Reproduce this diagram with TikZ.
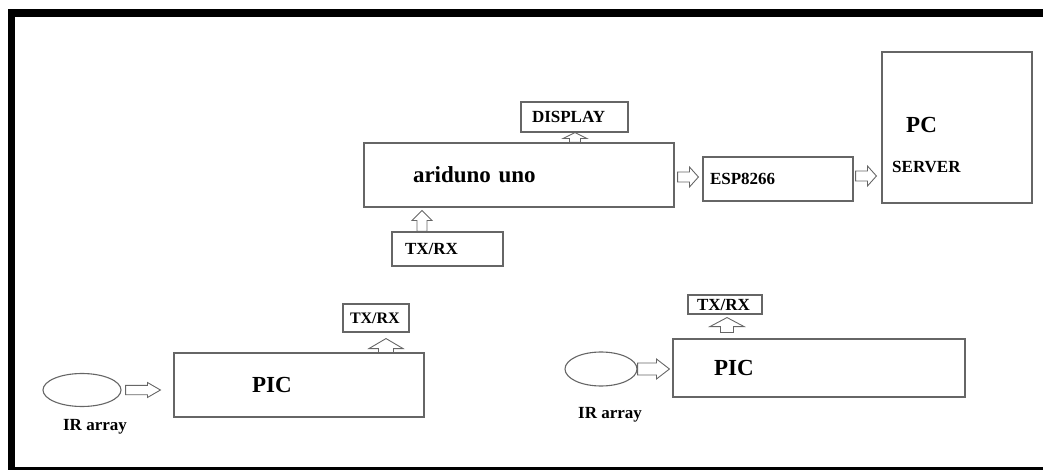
\documentclass[tikz,border=0pt]{standalone}
\usepackage{fontspec}
\setmainfont{Liberation Serif}
\usetikzlibrary{positioning,calc,shapes.geometric}

\begin{document}
\begin{tikzpicture}[
  x=1pt, y=-1pt,
  bshaft/.initial=5pt, bhead/.initial=10pt, blen/.initial=10pt,
  big/.style={font=\bfseries\fontsize{23}{26}\selectfont},
  small/.style={font=\bfseries\fontsize{17}{19}\selectfont},
  box/.style={rectangle, draw=black!60, line width=1.1pt, align=left, inner ysep=0pt},
  ir/.style={ellipse, draw=black!60, line width=1.1pt, inner sep=0pt},
  txt/.style={inner sep=0pt},
  % hollow block arrows, pointing right or up
  harr/.style={draw=black!60, line width=0.9pt, to path={
    let \p1=(\tikztostart), \p2=(\tikztotarget) in
    (\x1,\y1+\pgfkeysvalueof{/tikz/bshaft}) -- (\x2-\pgfkeysvalueof{/tikz/blen},\y1+\pgfkeysvalueof{/tikz/bshaft})
    -- (\x2-\pgfkeysvalueof{/tikz/blen},\y1+\pgfkeysvalueof{/tikz/bhead}) -- (\x2,\y1)
    -- (\x2-\pgfkeysvalueof{/tikz/blen},\y1-\pgfkeysvalueof{/tikz/bhead})
    -- (\x2-\pgfkeysvalueof{/tikz/blen},\y1-\pgfkeysvalueof{/tikz/bshaft}) -- (\x1,\y1-\pgfkeysvalueof{/tikz/bshaft}) -- cycle}},
  varr/.style={draw=black!60, line width=0.9pt, to path={
    let \p1=(\tikztostart), \p2=(\tikztotarget) in
    (\x1-\pgfkeysvalueof{/tikz/bshaft},\y1) -- (\x1-\pgfkeysvalueof{/tikz/bshaft},\y2-\pgfkeysvalueof{/tikz/blen})
    -- (\x1-\pgfkeysvalueof{/tikz/bhead},\y2-\pgfkeysvalueof{/tikz/blen}) -- (\x1,\y2)
    -- (\x1+\pgfkeysvalueof{/tikz/bhead},\y2-\pgfkeysvalueof{/tikz/blen})
    -- (\x1+\pgfkeysvalueof{/tikz/bshaft},\y2-\pgfkeysvalueof{/tikz/blen}) -- (\x1+\pgfkeysvalueof{/tikz/bshaft},\y1) -- cycle}}
]
  \useasboundingbox (0,0) rectangle (1043,470);
  \begin{scope}
    \clip (0,0) rectangle (1043,470);
    \draw[line width=7.5pt] (11.5,13) rectangle (1100,471);
  \end{scope}

  % upper row
  \node[box, big, minimum height=64pt, text width=212pt, inner xsep=49pt] (ard) at (519,175) {ariduno uno};
  \node[box, small, minimum height=30pt, text width=85pt, inner xsep=11pt] (disp) at (574.5,117) {DISPLAY};
  \node[box, small, minimum height=34pt, text width=85pt, inner xsep=13pt] (txa) at (447.5,249) {TX/RX};
  \node[box, small, minimum height=44pt, text width=136pt, inner xsep=7pt] (esp) at (778,179) {ESP8266};
  \node[box, minimum width=150pt, minimum height=151pt] (pc) at (957,127.5) {};
  \node[txt, big, anchor=west] (pctxt) at (906,125) {PC};
  \node[txt, small, anchor=west] (srvtxt) at (892,167) {SERVER};

  % lower left
  \node[ir, minimum width=78pt, minimum height=33pt] (ira) at (82,390) {};
  \node[txt, small, below=12pt of ira, xshift=13pt] (iratxt) {IR array};
  \node[box, big, minimum height=64pt, text width=94pt, inner xsep=78pt] (pica) at (299,385) {PIC};
  \node[box, small, font=\bfseries\fontsize{16}{18}\selectfont, minimum height=28pt, text width=52pt, inner xsep=7pt] (txb) at (376,318) {TX/RX};

  % lower right
  \node[ir, minimum width=72pt, minimum height=34pt] (irb) at (601,369) {};
  \node[txt, small, below=21pt of irb, xshift=9pt] (irbtxt) {IR array};
  \node[box, big, minimum height=58pt, text width=210pt, inner xsep=41pt] (picb) at (819,368) {PIC};
  \node[box, small, minimum height=19pt, text width=56pt, inner xsep=9pt] (txc) at (725,304.5) {TX/RX};

  % arrows
  \draw[varr] ([xshift=-25.5pt]txa.north) to ([yshift=-3pt]ard.south);
  \draw[varr, bhead=12pt, bshaft=5.5pt, blen=6pt] ([xshift=56pt]ard.north) to (disp.south);
  \draw[harr, bshaft=5pt, bhead=10pt, blen=9pt] ([xshift=3pt,yshift=-2pt]ard.east) to ([xshift=-4pt]esp.west);
  \draw[harr, bshaft=5pt, bhead=10pt, blen=9pt] ([xshift=2pt,yshift=3pt]esp.east) to ([xshift=-5pt]pc.west);
  \draw[harr, bshaft=4.7pt, bhead=7.5pt, blen=13pt] ([xshift=4pt]ira.east) to ([xshift=-13pt]pica.west);
  \draw[varr, bshaft=7.5pt, bhead=17pt, blen=10pt] ([xshift=87pt,yshift=-1pt]pica.north) to ([yshift=-6pt]txb.south);
  \draw[harr, bshaft=6pt, bhead=10pt, blen=13pt] (irb.east) to ([xshift=-3pt]picb.west);
  \draw[varr, bshaft=6.5pt, bhead=17pt, blen=9pt] ([xshift=-92pt,yshift=6pt]picb.north) to ([yshift=-3pt]txc.south);
\end{tikzpicture}
\end{document}
